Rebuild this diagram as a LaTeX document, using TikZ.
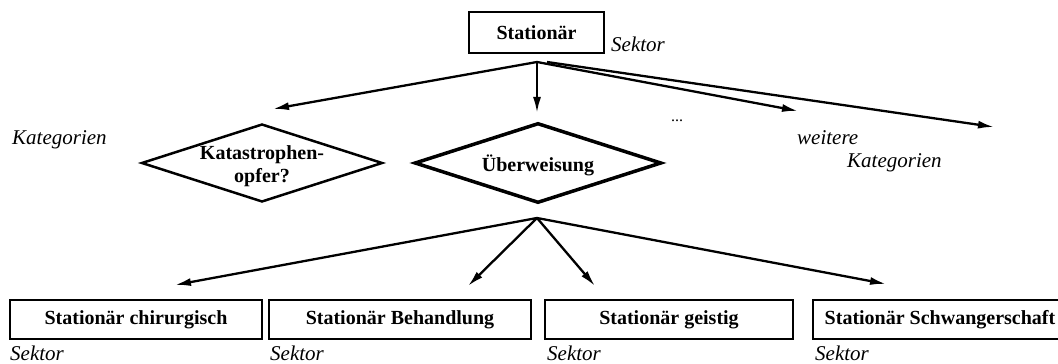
\documentclass[tikz,border=0pt]{standalone}
\usepackage{fontspec}
\setmainfont{Liberation Serif}
\usetikzlibrary{shapes.geometric,arrows.meta}
\begin{document}
\begin{tikzpicture}[x=1pt,y=1pt,
  boxnode/.style={draw, line width=2.2pt, rectangle, inner sep=0pt,
    font=\fontsize{20}{24}\selectfont\bfseries},
  diamnode/.style={draw, diamond, inner sep=0pt},
  boldtext/.style={font=\fontsize{20}{23}\selectfont\bfseries, align=center, inner sep=0pt},
  itext/.style={font=\fontsize{21}{24}\selectfont\itshape, inner sep=0pt, anchor=base west},
  arr/.style={line width=2.3pt, -{Latex[length=16pt,width=8pt]}}]
\useasboundingbox (0,0) rectangle (1058,364);
\clip (0,0) rectangle (1058,364);

% sector at the top
\node[boxnode, minimum width=135pt, minimum height=41pt] (top) at (536.5,331.5) {Stationär};
\node[itext] (topsek) at (611,312) {Sektor};

% category level
\node[diamnode, line width=2.5pt, minimum width=241pt, minimum height=78pt] (kat) at (262,201) {};
\node[boldtext] (kattext) at (262,198) {Katastrophen-\\opfer?};
\node[diamnode, line width=3.5pt, minimum width=247pt, minimum height=80pt] (ueb) at (538,201) {};
\node[boldtext] (uebtext) at (538,199) {Überweisung};

\node[itext] (katlabel) at (12,219) {Kategorien};
\node[itext] (weitere) at (797,219) {weitere};
\node[itext] (weiterekat) at (847,196) {Kategorien};
\node[font=\fontsize{16}{18}\selectfont, inner sep=0pt] (dots) at (677,243) {...};

% branching points and arrow ends
\coordinate (topfork) at (537,302);
\coordinate (topfork2) at (547,302);
\coordinate (tk1) at (273,255);
\coordinate (tk2) at (537,251);
\coordinate (tk3) at (798,253);
\coordinate (tk4) at (994,237);

\draw[arr] (topfork) -- (tk1);
\draw[arr] (topfork) -- (tk2);
\draw[arr] (topfork) -- (tk3);
\draw[arr] (topfork2) -- (tk4);

% sectors at the bottom
\node[boxnode, minimum width=252pt, minimum height=39pt] (s1) at (136,44.5) {Stationär chirurgisch};
\node[boxnode, minimum width=262pt, minimum height=39pt] (s2) at (400,44.5) {Stationär Behandlung};
\node[boxnode, minimum width=248pt, minimum height=39pt] (s3) at (669,44.5) {Stationär geistig};
\node[boxnode, minimum width=254pt, minimum height=39pt] (s4) at (940,44.5) {Stationär Schwangerschaft};

\node[itext] (sek1) at (10,3) {Sektor};
\node[itext] (sek2) at (270,3) {Sektor};
\node[itext] (sek3) at (547,3) {Sektor};
\node[itext] (sek4) at (815,3) {Sektor};

\coordinate (botfork) at (537,146);
\coordinate (ts1) at (175,79);
\coordinate (ts2) at (468,78);
\coordinate (ts3) at (595,78);
\coordinate (ts4) at (886,80);

\draw[arr] (botfork) -- (ts1);
\draw[arr] (botfork) -- (ts2);
\draw[arr] (botfork) -- (ts3);
\draw[arr] (botfork) -- (ts4);
\end{tikzpicture}
\end{document}
